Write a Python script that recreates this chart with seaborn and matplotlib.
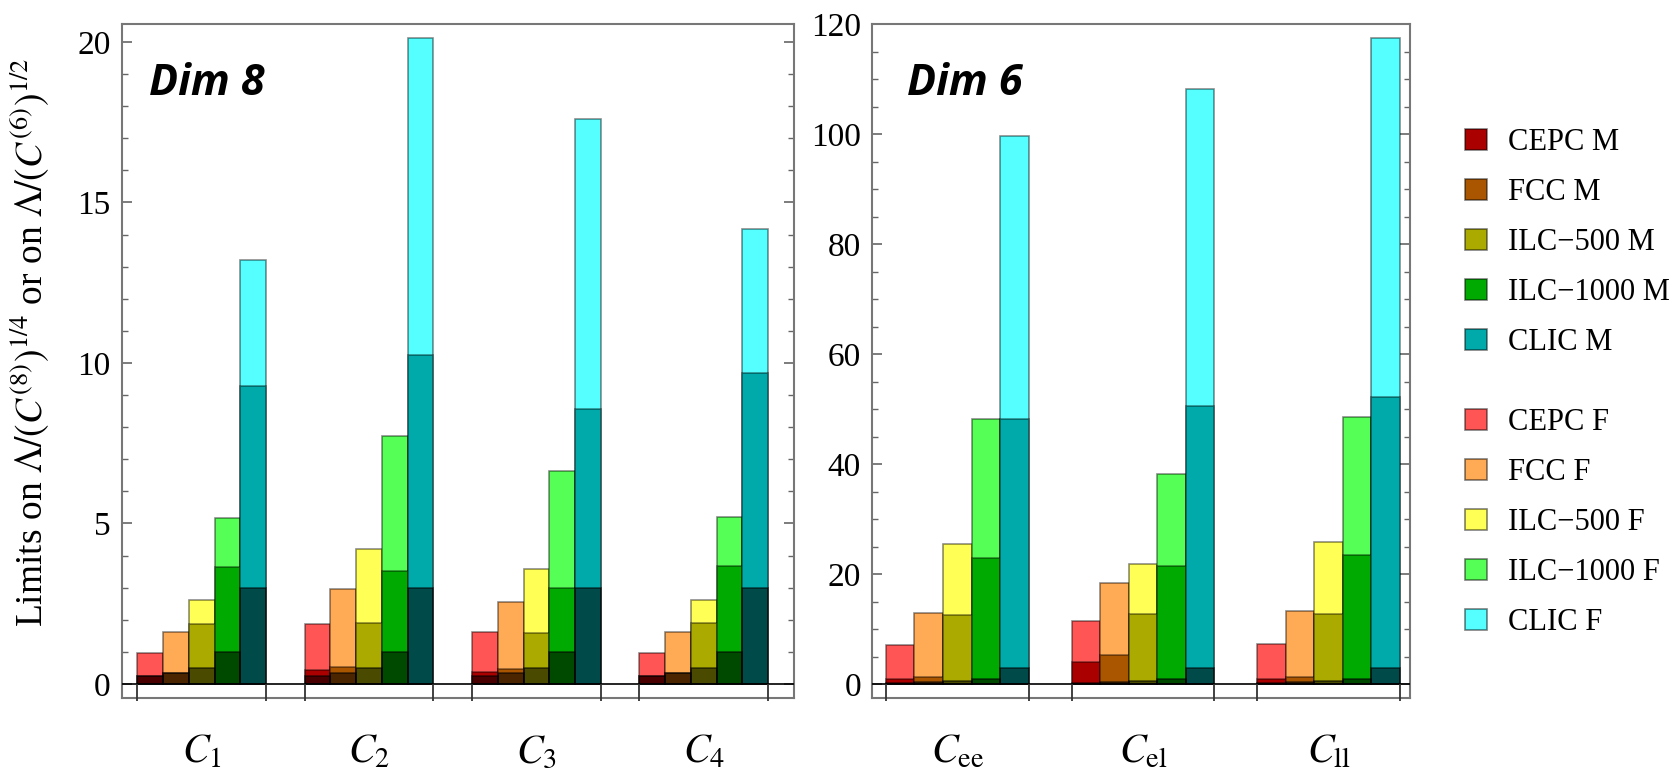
import numpy as np
import pandas as pd
import seaborn as sns
import matplotlib.pyplot as plt
from matplotlib.patches import Patch
from matplotlib.ticker import MultipleLocator

plt.rcParams["font.family"] = ["Liberation Serif", "DejaVu Serif"]
plt.rcParams["mathtext.fontset"] = "stix"

# -------------------------
# data
# -------------------------
colliders = ["CEPC", "FCC", "ILC−500", "ILC−1000", "CLIC"]
sqrt_s = [0.24, 0.35, 0.5, 1.0, 3.0]  # TeV, dark band at the bottom

dim8_ops = [r"$C_1$", r"$C_2$", r"$C_3$", r"$C_4$"]
dim8_F = [
    [0.96, 1.61, 2.63, 5.17, 13.22],
    [1.87, 2.95, 4.20, 7.74, 20.11],
    [1.62, 2.56, 3.59, 6.65, 17.61],
    [0.98, 1.62, 2.63, 5.19, 14.18],
]
dim8_M = [
    [0.24, 0.35, 1.88, 3.64, 9.27],
    [0.45, 0.54, 1.90, 3.53, 10.26],
    [0.37, 0.46, 1.59, 2.98, 8.56],
    [0.24, 0.35, 1.89, 3.67, 9.68],
]

dim6_ops = [r"$C_{\rm ee}$", r"$C_{\rm el}$", r"$C_{\rm ll}$"]
dim6_F = [
    [7.1, 12.9, 25.5, 48.2, 99.6],
    [11.5, 18.4, 21.9, 38.2, 108.1],
    [7.3, 13.3, 25.9, 48.5, 117.4],
]
dim6_M = [
    [0.97, 1.27, 12.5, 23.0, 48.2],
    [4.0, 5.2, 12.7, 21.4, 50.5],
    [0.97, 1.27, 12.8, 23.4, 52.2],
]

colors_M = ["#AA0000", "#AA5500", "#AAAA00", "#00AA00", "#00AAAA"]
colors_F = ["#FF5555", "#FFAA55", "#FFFF55", "#55FF55", "#55FFFF"]

step = 6.5  # group spacing in bar widths


def make_df(F, M):
    rows = []
    for g in range(len(F)):
        for j, c in enumerate(colliders):
            rows.append({"pos": g * step + j, "collider": c,
                         "F": F[g][j], "M": M[g][j], "sqrt_s": sqrt_s[j]})
    return pd.DataFrame(rows)


def draw(ax, df):
    edge = dict(edgecolor=(0, 0, 0, 0.45), linewidth=1.2)
    common = dict(x="pos", native_scale=True, width=1, saturation=1,
                  errorbar=None, dodge=False, legend=False, ax=ax)
    sns.barplot(data=df, y="F", hue="collider", hue_order=colliders,
                palette=colors_F, zorder=2, **common, **edge)
    sns.barplot(data=df, y="M", hue="collider", hue_order=colliders,
                palette=colors_M, zorder=3, **common, **edge)
    sns.barplot(data=df, y="sqrt_s", color="black", alpha=0.56,
                zorder=4, **common, **edge)


fig = plt.figure(figsize=(16.81, 7.69), dpi=100)
W, H = 1681, 769
ax1 = fig.add_axes([121.9 / W, (H - 698) / H, (793.9 - 121.9) / W, 674 / H])
ax2 = fig.add_axes([872.2 / W, (H - 698) / H, (1410.3 - 872.2) / W, 674 / H])

df8 = make_df(dim8_F, dim8_M)
df6 = make_df(dim6_F, dim6_M)
draw(ax1, df8)
draw(ax2, df6)

panels = [
    (ax1, dim8_ops, (-1.1, 25.0), (-0.436, 20.56), 5, 1, -0.53),
    (ax2, dim6_ops, (-0.98, 17.86), (-2.545, 120), 20, 5, -3.1),
]
for ax, ops, xl, yl, major, minor, ybot in panels:
    ax.set_xlim(*xl)
    ax.set_ylim(*yl)
    centers = [g * step + 2 for g in range(len(ops))]
    ax.set_xticks(centers)
    ax.set_xticklabels(ops)
    ax.tick_params(axis="x", length=0, pad=26, labelsize=29)
    ax.yaxis.set_major_locator(MultipleLocator(major))
    ax.yaxis.set_minor_locator(MultipleLocator(minor))
    ax.tick_params(axis="y", which="both", direction="in", left=True,
                   right=True, color="#666666", labelsize=24, pad=8)
    ax.tick_params(axis="y", which="major", length=7, width=1.2)
    ax.tick_params(axis="y", which="minor", length=4, width=1.0)
    ax.set_xlabel("")
    ax.set_ylabel("")
    for s in ax.spines.values():
        s.set_color("#777777")
        s.set_linewidth(1.5)
    ax.axhline(0, color="black", lw=1.2, zorder=5)
    edges = [g * step + e for g in range(len(ops)) for e in (-0.5, 4.5)]
    ax.vlines(edges, ybot, 0, colors="#333333", lw=1.3, clip_on=False, zorder=6)

fig.text(149 / W, 1 - 95 / H, "Dim 8", ha="left", va="baseline", fontsize=31,
         fontweight="bold", fontstyle="italic", family="Open Sans")
fig.text(907 / W, 1 - 95 / H, "Dim 6", ha="left", va="baseline", fontsize=31,
         fontweight="bold", fontstyle="italic", family="Open Sans")

fig.text(30 / W, 1 - 343 / H,
         r"Limits on $\Lambda/(C^{(8)})^{1/4}$ or on $\Lambda/(C^{(6)})^{1/2}$",
         rotation=90, ha="center", va="center", fontsize=27)

leg_kw = dict(loc="upper left", frameon=False, fontsize=22, borderpad=0,
              handlelength=0.72, handleheight=0.69, handletextpad=0.69,
              labelspacing=0.69, borderaxespad=0)
hM = [Patch(facecolor=c, edgecolor=(0, 0, 0, 0.5), lw=1.2) for c in colors_M]
hF = [Patch(facecolor=c, edgecolor=(0, 0, 0, 0.5), lw=1.2) for c in colors_F]
fig.legend(hM, [c + " M" for c in colliders],
           bbox_to_anchor=(1465 / W, 1 - 128 / H), **leg_kw)
fig.legend(hF, [c + " F" for c in colliders],
           bbox_to_anchor=(1465 / W, 1 - 408 / H), **leg_kw)

fig.savefig("out.png", dpi=100)
